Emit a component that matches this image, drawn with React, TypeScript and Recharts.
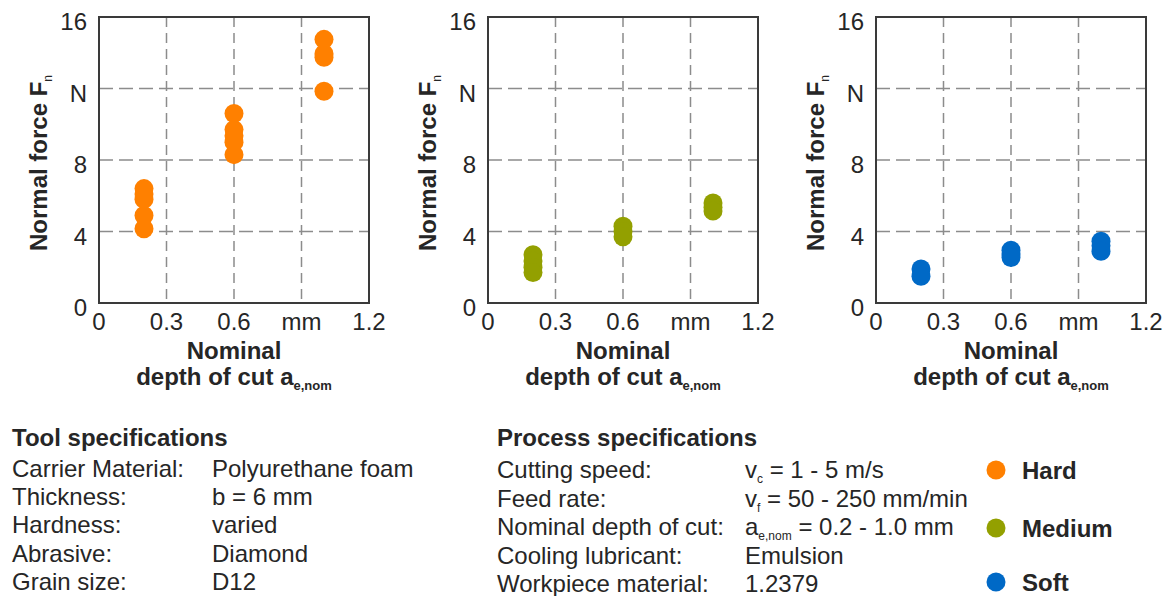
import React from 'react';
import { ScatterChart, Scatter, XAxis, YAxis, CartesianGrid, ReferenceArea } from 'recharts';

const FONT = '"Liberation Sans", Arial, sans-serif';
const TEXT = '#262626';

// axes
const xTicks = [0, 0.3, 0.6, 0.9, 1.2];
const xTickLabels = ['0', '0.3', '0.6', 'mm', '1.2'];
const yTicks = [0, 4, 8, 12, 16];
const yTickLabels = ['0', '4', '8', 'N', '16'];

// nominal depth of cut (mm) and measured normal force (N) per depth
const depths = [0.2, 0.6, 1.0];
const hardForce = [
  [6.4, 6.1, 5.8, 4.9, 4.15],
  [10.6, 9.7, 9.35, 9.0, 8.3],
  [14.75, 13.95, 13.75, 11.85],
];
const mediumForce = [
  [2.7, 2.35, 2.0, 1.7],
  [4.3, 4.0, 3.7],
  [5.6, 5.35, 5.15],
];
const softForce = [
  [1.9, 1.5],
  [2.95, 2.75, 2.55],
  [3.45, 3.2, 2.9],
];

const grades = ['Hard', 'Medium', 'Soft'];
const gradeColors = ['#FF8000', '#93A000', '#0069C6'];

const toolLabels = ['Carrier Material:', 'Thickness:', 'Hardness:', 'Abrasive:', 'Grain size:'];
const toolValues = ['Polyurethane foam', 'b = 6 mm', 'varied', 'Diamond', 'D12'];
const processLabels = ['Cutting speed:', 'Feed rate:', 'Nominal depth of cut:', 'Cooling lubricant:', 'Workpiece material:'];
const processValues = [
  { base: 'v', sub: 'c', rest: ' = 1 - 5 m/s' },
  { base: 'v', sub: 'f', rest: ' = 50 - 250 mm/min' },
  { base: 'a', sub: 'e,nom', rest: ' = 0.2 - 1.0 mm' },
  { base: 'Emulsion', sub: '', rest: '' },
  { base: '1.2379', sub: '', rest: '' },
];

const toPoints = (groups: number[][]) =>
  groups.flatMap((vals, i) => vals.map((v) => ({ x: depths[i], y: v })));

const XTick = (props: any) => {
  const { x, y, payload } = props;
  const idx = xTicks.indexOf(payload.value);
  return (
    <text x={x} y={y + 27} textAnchor="middle" fontSize={24} fontFamily={FONT} fill={TEXT}>
      {xTickLabels[idx]}
    </text>
  );
};

const YTick = (props: any) => {
  const { x, y, payload } = props;
  const idx = yTicks.indexOf(payload.value);
  return (
    <text x={x - 12} y={y + 13} textAnchor="end" fontSize={24} fontFamily={FONT} fill={TEXT}>
      {yTickLabels[idx]}
    </text>
  );
};

const XLabel = (props: any) => {
  const { x, y, width } = props.viewBox;
  const cx = x + width / 2;
  return (
    <g fontFamily={FONT} fontWeight="bold" fill={TEXT}>
      <text x={cx} y={y + 56} textAnchor="middle" fontSize={24}>Nominal</text>
      <text x={cx} y={y + 82} textAnchor="middle" fontSize={24}>
        depth of cut a
        <tspan fontSize={13} dy={5}>e,nom</tspan>
      </text>
    </g>
  );
};

const YLabel = (props: any) => {
  const { y, height } = props.viewBox;
  const cx = 47;
  const cy = y + height / 2 + 3;
  return (
    <text
      x={cx}
      y={cy}
      transform={`rotate(-90 ${cx} ${cy})`}
      textAnchor="middle"
      fontFamily={FONT}
      fontWeight="bold"
      fontSize={24}
      fill={TEXT}
    >
      Normal force F
      <tspan fontSize={12} fontWeight="normal" dy={5}>n</tspan>
    </text>
  );
};

function ForcePanel({ left, data, color }: { left: number; data: number[][]; color: string }) {
  const points = toPoints(data);
  return (
    <div style={{ position: 'absolute', left, top: 0 }}>
      <ScatterChart width={390} height={400} margin={{ top: 17, right: 21, bottom: 0, left: 0 }}>
        <CartesianGrid
          horizontal={false}
          verticalValues={[0.3, 0.6, 0.9]}
          stroke="#8c8c8c"
          strokeWidth={1.5}
          strokeDasharray="10 6"
        />
        <CartesianGrid
          vertical={false}
          horizontalValues={[4, 8, 12]}
          stroke="#8c8c8c"
          strokeWidth={1.5}
          strokeDasharray="14 6"
        />
        <XAxis
          type="number"
          dataKey="x"
          domain={[0, 1.2]}
          ticks={xTicks}
          interval={0}
          height={97}
          axisLine={false}
          tickLine={false}
          tickSize={0}
          tickMargin={0}
          tick={<XTick />}
          label={(p: any) => <XLabel {...p} />}
        />
        <YAxis
          type="number"
          dataKey="y"
          domain={[0, 16]}
          ticks={yTicks}
          interval={0}
          width={99}
          axisLine={false}
          tickLine={false}
          tickSize={0}
          tickMargin={0}
          tick={<YTick />}
          label={(p: any) => <YLabel {...p} />}
        />
        <ReferenceArea
          x1={0}
          x2={1.2}
          y1={0}
          y2={16}
          fill="none"
          stroke="#3a3a3a"
          strokeWidth={2}
          ifOverflow="visible"
        />
        <Scatter
          data={points}
          fill={color}
          isAnimationActive={false}
          shape={(p: any) => <circle cx={p.cx} cy={p.cy} r={9.5} fill={color} />}
        />
      </ScatterChart>
    </div>
  );
}

function SpecsBlock() {
  const toolRows = [477, 505, 533, 562, 590];
  const procRows = [478, 507, 535, 564, 592];
  const legendRows = [470, 528, 582];
  return (
    <svg
      width={1170}
      height={596}
      style={{ position: 'absolute', left: 0, top: 0 }}
      fontFamily={FONT}
      fill={TEXT}
    >
      <text x={12} y={446} fontSize={24} fontWeight="bold">Tool specifications</text>
      {toolLabels.map((l, i) => (
        <g key={l}>
          <text x={12} y={toolRows[i]} fontSize={24}>{l}</text>
          <text x={212} y={toolRows[i]} fontSize={24}>{toolValues[i]}</text>
        </g>
      ))}
      <text x={497} y={446} fontSize={24} fontWeight="bold">Process specifications</text>
      {processLabels.map((l, i) => {
        const v = processValues[i];
        return (
          <g key={l}>
            <text x={497} y={procRows[i]} fontSize={24}>{l}</text>
            <text x={745} y={procRows[i]} fontSize={24}>
              {v.base}
              {v.sub && <tspan fontSize={12} dy={5}>{v.sub}</tspan>}
              {v.rest && <tspan dy={v.sub ? -5 : 0}>{v.rest}</tspan>}
            </text>
          </g>
        );
      })}
      {grades.map((g, i) => (
        <g key={g}>
          <circle cx={996} cy={legendRows[i]} r={9.5} fill={gradeColors[i]} />
          <text x={1022} y={legendRows[i] + 8.5} fontSize={24} fontWeight="bold">{g}</text>
        </g>
      ))}
    </svg>
  );
}

export default function App() {
  return (
    <div style={{ position: 'absolute', left: 0, top: 0, width: 1170, height: 596, background: '#fff', fontFamily: FONT }}>
      <SpecsBlock />
      <ForcePanel left={0} data={hardForce} color={gradeColors[0]} />
      <ForcePanel left={389} data={mediumForce} color={gradeColors[1]} />
      <ForcePanel left={777} data={softForce} color={gradeColors[2]} />
    </div>
  );
}
